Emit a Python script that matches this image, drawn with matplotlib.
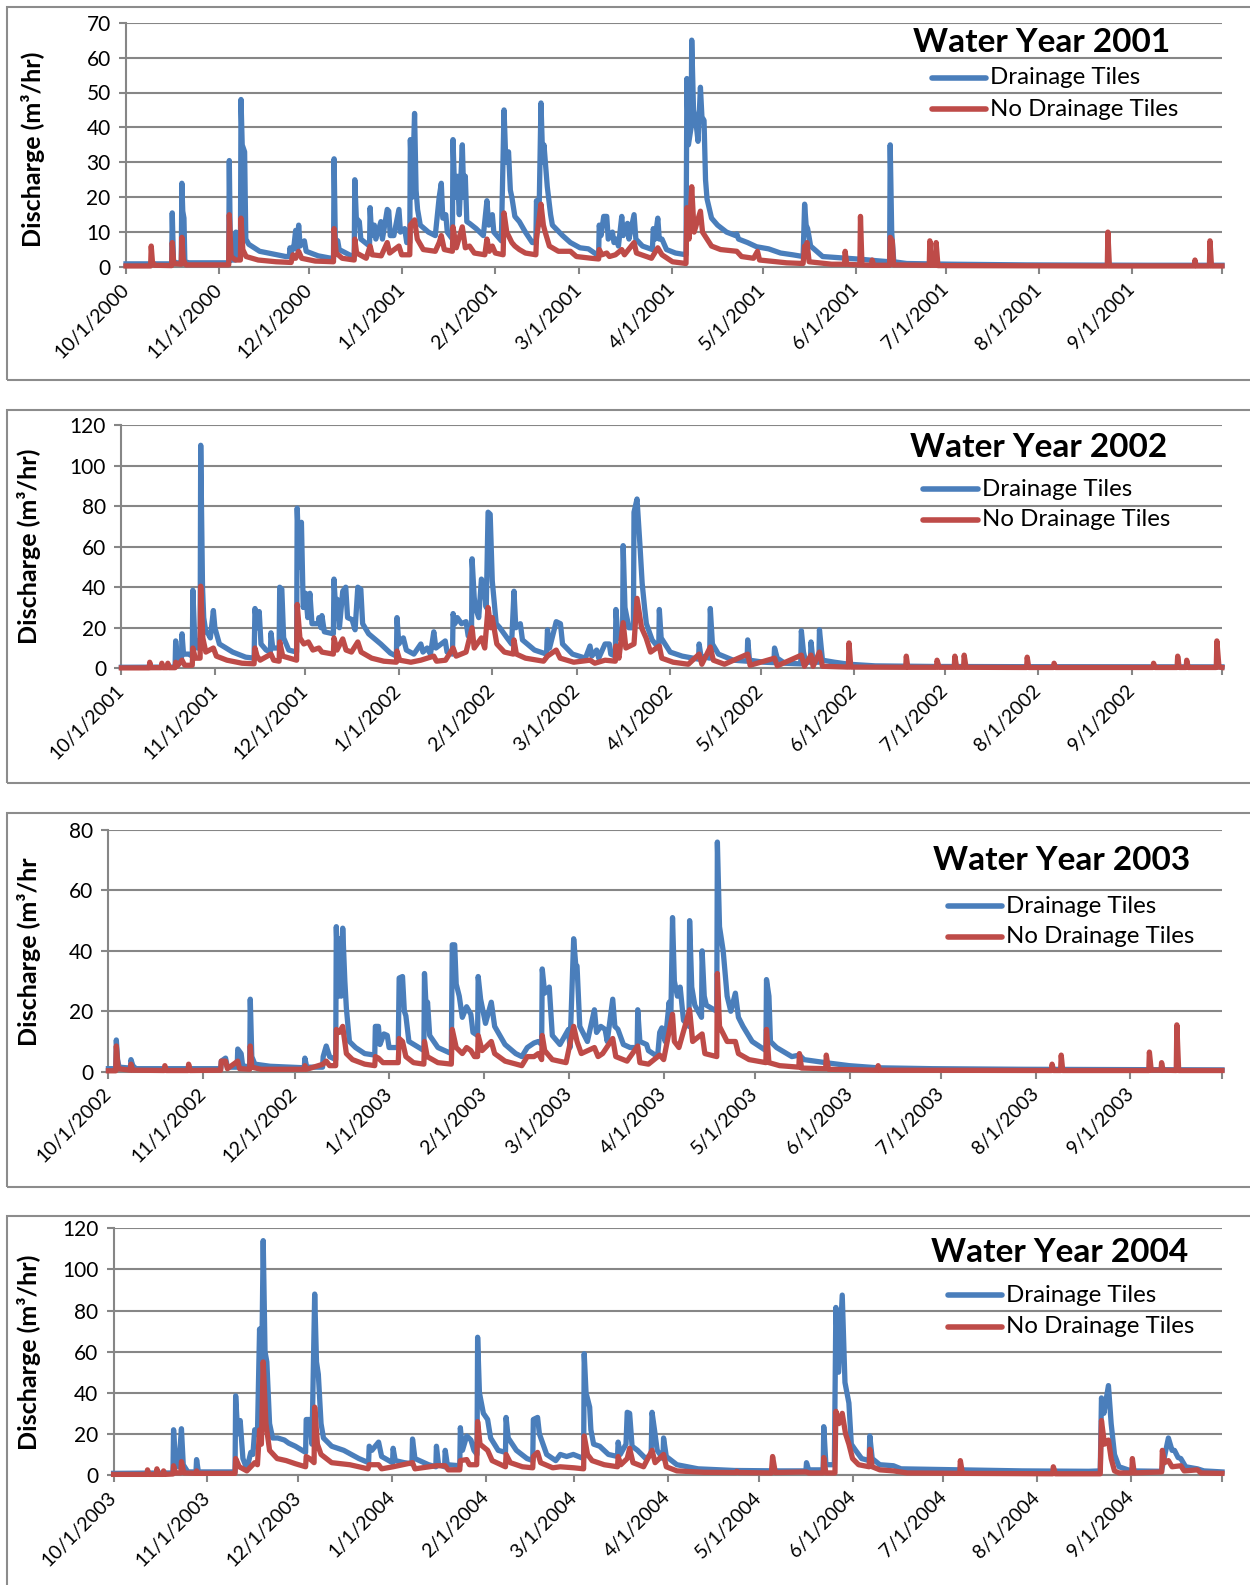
import matplotlib.pyplot as plt
import matplotlib.dates as mdates
import matplotlib.transforms as mtransforms
from matplotlib.lines import Line2D
from matplotlib.patches import Rectangle
from datetime import datetime
import numpy as np

plt.rcParams['font.family'] = ['Lato', 'DejaVu Sans']

# (days since Oct 1 of the water year, discharge m3/hr)
wy2001_tiles = [(0,0.9),(15.2,0.9),(15.4,15.5),(15.8,2),(16.2,1.2),(18.4,1.2),(18.6,24),(18.9,16),(19.3,14),(19.6,1.5),(21,1.2),
    (34.2,1.2),(34.4,30.5),(34.8,2),(36.4,2),(36.6,10),(37,3),(38.1,3),(38.3,48),(38.7,35),(39.5,33),(39.9,8),(40.9,6.5),
    (44.5,4.5),(50.3,3.5),(53.2,3),(54.4,3),(54.6,5.5),(55,4),(56,6.5),(56.5,10.5),(57,5),(57.5,12),(58,6),(59.4,7.5),(60,4.5),
    (64,3.2),(68.3,2.5),(69.1,2.5),(69.3,31),(69.7,8),(70.5,7.5),(71,5),(75.5,3),(76,3),(76.2,25),(76.7,14),(77.7,13),(78.2,8),
    (81.1,6),(81.3,17),(81.8,9),(82.7,12),(83.2,8),(84.9,13),(85.4,8),(87,16.5),(87.5,16),(88,9),(89.2,9),(90.9,16.5),(91.4,10),
    (92.8,11),(93.5,7),(94.5,7),(94.7,36.5),(95.3,20),(96.1,44),(96.6,22),(97.1,16.5),(98,12),(100.7,10),(103,9),(104.3,20),
    (105,24),(105.5,14),(106.5,15),(107,10),(108.7,8),(108.9,36.5),(109.5,20),(110.4,26),(111,15),(112,35),(112.5,20),(113,26),
    (113.5,13),(114.4,12.5),(116.6,11),(119,9),(120.2,19),(120.8,12),(122,15),(122.5,10),(125,7.5),(125.9,45),(126.5,30),
    (127.4,33),(128,22),(128.5,20),(129.5,14.5),(131,13),(133,10),(135.3,7),(136.5,7),(136.7,19),(137.5,12),(138.2,47),
    (138.8,30),(139.2,35),(140.3,23),(141.4,15),(142,12),(145.4,9),(148,7),(151.2,5.5),(154,5.2),(156.9,3.5),(157.4,3.5),
    (157.6,12),(158.2,9),(159.1,14.5),(160.1,14.5),(160.6,8),(162,10),(162.5,7),(163.4,8),(164,6),(165.1,14.5),(165.6,9),
    (167,12.5),(167.5,8),(169.2,15),(169.8,8),(172,6),(175.3,5),(175.6,11),(176.2,8),(177.1,14),(177.6,8),(178.5,8),(180,5),
    (183,4),(186.5,3.5),(186.8,54),(187.3,35),(188.2,40),(188.4,65),(189,45),(190,40),(190.5,36),(191.3,51.5),(191.8,43),
    (192.5,42),(193,25),(193.5,19.5),(195,14),(197,12),(200,10),(203,9),(203.4,9.5),(204,8),(207,7),(210,5.8),(212,5.5),
    (214,5.2),(218,4),(222,3.5),(225.5,3),(226,18),(226.5,12),(227,11),(228,6),(232,3),(240,2.5),(245,2.2),(250,1.8),
    (254.3,1.5),(254.5,35),(255,10),(255.7,1.5),(260,1),(275,0.8),(300,0.6),(340,0.5),(365,0.5)]
wy2001_notiles = [(0,0.3),(8.2,0.3),(8.4,6),(8.8,1.5),(9.5,0.5),(15.2,0.4),(15.4,7),(15.9,1),(18.4,0.8),(18.6,8.5),(19.1,2),
    (20,0.6),(34.2,0.6),(34.4,15),(35,3),(36.5,2),(38.1,2),(38.3,14),(38.9,5),(40,3),(44,2),(50,1.5),(55,1.3),(55.6,3.5),
    (56.5,2.5),(57.5,4.5),(58.5,2.5),(63,1.7),(69.1,1.5),(69.3,11),(70,4),(72,2.5),(76,2),(76.2,8),(76.8,4),(80,2.5),(81.3,6),
    (82,3.5),(85,3.2),(87,7),(87.8,4),(90.9,6),(91.8,3.5),(94.5,3.5),(94.7,12),(96.1,13.5),(97,8),(99,5),(103,4.5),(104.3,7),
    (105,9),(106,5),(108.7,4.5),(108.9,11.5),(110,5.5),(112,11.5),(113,5.5),(114.4,6),(116,4),(119.5,3.5),(120.2,8),(121,4.5),
    (122,6),(123,4),(125.6,3.5),(125.9,15.5),(126.8,10),(128.5,7),(129.5,6),(131,5),(133,4),(136.5,3.5),(136.7,8),(138.2,18),
    (139,12),(139.6,10),(141,6),(144,4.5),(148,4.5),(150,3),(155,2.5),(157.4,2.3),(157.6,5),(158.5,3.5),(160.1,4),(161,3),
    (163,3.5),(165.1,5),(166,3.5),(169.2,7),(170,4),(175,2.5),(177.1,5.5),(178.5,3.5),(182,1.5),(186.5,1),(186.8,17),
    (187.5,8),(188.4,23),(189.2,10),(191.3,16),(192,10),(193.5,8),(195,6),(198,5),(203.4,4.5),(205,3),(209,2.5),(210.3,4.5),
    (211,2),(220,1.2),(225.5,1),(226,6),(226.4,4),(226.8,7),(227.5,1.5),(235,0.8),(239.3,0.8),(239.5,4.5),(240,0.8),
    (244.4,0.6),(244.6,14.5),(245.1,0.6),(248.3,0.5),(248.5,2),(249,0.5),(254.3,0.5),(254.5,8.5),(255.2,7.5),(255.6,0.6),
    (267.5,0.5),(267.7,7.5),(268.3,0.5),(269.6,0.5),(269.8,7),(270.4,0.4),(326.8,0.3),(327,10),(327.5,0.3),(355.8,0.3),
    (356,2),(356.4,0.3),(360.8,0.3),(361,7.5),(361.5,0.3),(365,0.3)]

wy2002_tiles = [(0,0.5),(17.8,0.6),(18,13.5),(18.5,5),(19.9,4),(20.1,17),(20.6,7),(22.3,7),(23.5,6),(23.7,38.5),(24.3,15),
    (25.2,10),(26.1,10),(26.3,110),(26.9,40),(27.3,25),(28,18),(28.8,17),(29.5,15),(30.5,28.5),(31,20),(32.5,12),(36.9,8),
    (41.2,5.5),(44,5),(44.3,29.5),(45,20),(45.7,28),(46.3,12),(48,9),(49.4,8),(49.6,17.5),(50.2,10),(52.3,10),(52.5,40),
    (53.2,39),(53.8,15),(55.5,9),(58.1,8),(58.3,79),(59,50),(59.7,72),(60.3,30),(61.1,37),(61.8,25),(62.5,37),(63.2,22),
    (65.3,22),(65.5,25),(66.2,20),(66.5,26),(67.3,18),(70.3,17),(70.5,44),(71.2,25),(71.6,34),(72.3,20),(73.4,38),(74.4,40),
    (75,25),(76.5,24),(77.5,19),(78.4,40),(79.4,39),(80,22),(82,17),(86,12),(89.2,7.5),(91.2,6),(91.4,25),(92,12),(93.5,15),
    (94.5,9),(97,7),(99.3,12),(100,8),(101.4,10),(102.5,7),(103.6,18),(104.3,10),(107.4,13.5),(108,8),(109.8,7),(110,27),
    (110.6,22),(111.4,25),(112.8,22),(114.3,23),(115,16),(116.1,15),(116.3,54),(117,35),(117.4,30),(118.5,25),(119.4,44),
    (120.3,40),(121,30),(121.6,77),(122.3,76),(123,43),(124.3,22),(125.5,20),(127.9,15),(129.4,12),(130.2,38),(130.8,20),
    (132.3,22),(133,14),(137,9),(141,7),(141.3,19),(142,10),(144.2,23),(145.6,22),(146.3,12),(149.6,7),(153.9,5),(155.4,11),
    (156,6),(157.6,9),(158.3,5),(160.4,12),(161.8,12),(162.3,7),(163.8,6),(164,29),(164.7,15),(166.2,14),(166.4,60.5),
    (167,30),(168.3,20),(169.8,20),(170,77),(171,83.5),(172,60),(172.7,42),(173.5,30),(174.1,22),(176,14),(178.2,10),
    (178.4,29),(179,15),(182,8),(186,6),(191.4,4.5),(191.6,12),(192.2,6),(195.1,5),(195.3,29.5),(196,12),(198,7),(202.9,4),
    (207.5,3.5),(207.7,14),(208.3,4),(213,3),(216.4,2.8),(216.6,10),(217.5,5),(220,2.5),(225.3,2.2),(225.5,18.5),(226.2,8),
    (227,3),(228.5,3),(228.7,13),(229.4,3),(231.3,3),(231.5,19),(232.5,4),(236.5,3),(241.3,2),(250,1.2),(270,0.9),(300,0.8),
    (365,0.7)]
wy2002_notiles = [(0,0.2),(9.2,0.2),(9.4,3),(9.8,0.3),(13.2,0.3),(13.4,2.5),(13.8,0.3),(15.2,0.3),(15.4,2.5),(15.8,0.3),
    (17.8,0.3),(18,3),(18.5,1),(20.1,4),(21,1.5),(23.5,1.5),(23.7,10),(24.5,5),(26.1,5),(26.3,40.5),(27,15),(28,8),(30.5,10),
    (31.5,6),(35,4),(40,2.5),(44,2.2),(44.3,10),(45,6),(46,4),(49.6,7),(50.5,4),(52.3,3.5),(52.5,13),(53.5,6),(58.1,4),
    (58.3,31.5),(59.2,15),(60.5,12),(62,13),(63.5,9),(65.5,10),(66.5,8),(70.3,7),(70.5,15),(71.5,9),(73.4,14.5),(74.5,9),
    (76.3,8),(78.4,13),(79.5,8),(83,5),(87,3.5),(91.2,3),(91.4,8.5),(92.3,4),(96,3),(99.3,4),(103.6,6),(104.5,3.5),(107.5,4),
    (110,10),(111,6),(114.3,8),(116.3,20),(117,10),(119.4,15),(120.5,10),(121.6,30),(122.5,20),(123,25),(124.5,12),(127,8),
    (130,7),(130.2,14),(131,7),(134,5),(140,3.5),(141.3,6),(144.2,9),(145.5,5),(150,3),(155.4,4),(157,2.5),(160.4,4),
    (163.8,3.5),(164,11),(165,5),(166.4,22.5),(167.3,10),(170,12),(171,34.5),(172.5,20),(174,15),(175.5,8),(178.4,11),
    (179.2,5),(183,3),(188,2),(191.6,7),(192.5,2),(195.3,10.5),(196.3,4),(200,2),(207.7,7),(208.5,1.5),(216.6,5),(217.5,1.2),
    (225.5,6.5),(226.5,1),(228.7,6.5),(229.4,1),(231.5,8),(232.5,1),(241.1,0.6),(241.3,12.5),(241.9,0.6),(260.1,0.5),
    (260.3,6),(260.8,0.5),(270.3,0.5),(270.5,4),(271.2,0.5),(276.2,0.5),(276.4,6),(277,0.5),(279.3,0.5),(279.5,6.5),
    (280.1,0.5),(300.2,0.4),(300.4,5.5),(300.9,0.4),(309.1,0.4),(309.3,2.5),(309.8,0.4),(342.1,0.4),(342.3,2.5),(342.8,0.4),
    (350.1,0.4),(350.3,6),(350.8,0.4),(353.1,0.4),(353.3,4),(353.8,0.4),(363.1,0.4),(363.3,13.5),(364,0.6),(365,0.4)]

wy2003_tiles = [(0,1),(2.4,1),(2.6,10.5),(3,4),(3.5,1.5),(7.2,1.2),(7.4,4),(8,2),(9,1),(36.8,1),(37,3.5),(38.4,4.5),(39,1.5),
    (42.2,1.5),(42.4,7.5),(43.5,6),(44,2),(46.3,1.5),(46.5,24),(47,5),(48,2.5),(53,1.8),(60,1.5),(64.2,1.3),(64.4,4.5),
    (65,1.5),(70.2,1.5),(70.4,5),(71.4,8.5),(72.5,5),(74.5,4),(74.7,48),(75.4,25),(75.7,44),(76.3,25),(76.8,47.5),(77.5,30),
    (78,21),(79,10),(81,8),(84,6),(87.3,5.5),(87.5,15),(88.5,15),(89,9),(90.3,12.5),(91.4,12),(92,8),(95,8),(95.3,31),
    (96.4,31.5),(97,20),(97.5,18.5),(98.5,10),(103.4,7),(103.6,32.5),(104.2,20),(104.6,23),(105.3,12),(108,8),(112.4,6),
    (112.7,42),(113.5,42),(114,29),(115,25),(116,18),(117.4,21.5),(118.8,19),(119.5,13),(121,12),(121.2,31.5),(122,24),
    (123.6,16),(125.5,23),(126.6,15),(130,9),(133.5,6),(135.5,5),(137.3,8),(139.5,9.5),(140.9,10),(142,9),(142.2,34),(143,26),
    (144.5,28),(145.5,12),(148,9),(150.8,14),(151.3,8),(152.5,44),(153.2,35),(153.6,35),(154.5,15),(157,10),(159.3,20.5),
    (160,13),(161.4,15),(162.8,14),(163.5,10),(165.3,24),(166,15),(167,14),(168.8,9),(171,8),(173.3,8),(173.5,20.5),
    (174.2,10),(176.4,9),(177,7),(180,5),(180.7,13),(181.4,14.5),(182.5,10),(183.8,23),(184.3,15),(184.9,51),(185.5,30),
    (186.5,25),(187.4,28),(188.5,17),(190.3,15),(190.5,50),(191.2,28),(192.2,22),(194.4,18),(194.6,40),(195.3,25),(196,22),
    (199.4,20),(199.6,76),(200.3,48),(201.5,40),(202.8,25),(204,20),(205.5,26),(206.5,18),(208,15),(211,10),(215.5,7),
    (215.7,30.5),(216.5,25),(217,10),(219,8),(224,5),(226.5,5.5),(228,4),(235,3),(242.8,2),(252,1.3),(270,1),(300,0.8),
    (365,0.6)]
wy2003_notiles = [(0,0.3),(2.4,0.3),(2.6,8.5),(3.2,1),(7.2,0.5),(7.4,2.5),(8,0.5),(18.3,0.4),(18.5,2),(19,0.4),(26.1,0.4),
    (26.3,2.5),(26.8,0.4),(36.8,0.5),(37,3.5),(38.4,3.5),(39,1),(42.4,3.5),(43,1),(46.3,0.8),(46.5,8.5),(47,1.5),(50,0.8),
    (64.2,0.8),(64.4,2),(65,0.8),(70.4,2.5),(71.4,3.5),(72.5,2),(74.5,2),(74.7,14),(75.7,13),(76.8,15),(78,6),(80,4),
    (84,2.5),(87.3,2),(87.5,5),(88.5,4.5),(90,3),(95,3),(95.3,11),(96.4,10),(97.5,5),(100,3),(103.4,2.5),(103.6,10),
    (104.5,5),(108,3),(112.4,2.5),(112.7,14),(114,8),(116,6),(117.4,8),(118.8,7),(120,5),(121,5),(121.2,12),(122.5,7),
    (125.5,10),(126.6,6),(130,3.5),(135.5,2),(137.3,5),(139.5,5),(140.9,6),(142,4),(142.2,12),(143,7),(145.5,4),(150,3),
    (152.5,15),(153.6,10),(155,6),(159.3,8),(160.5,5),(162,6),(165.3,11),(166.3,5),(170,3.5),(173.5,8.5),(174.2,3),(177,2.5),
    (180.7,5.5),(182,4),(184.9,19),(185.5,10),(187,8),(190.5,20.5),(191.5,10),(194.6,12.5),(195.5,6),(199.4,5),(199.6,32.5),
    (200.3,15),(202.8,10),(205.5,10),(206.5,6),(210,4),(215.5,3),(215.7,14),(216.5,3),(220,2),(226.3,1.5),(226.5,6),
    (227.2,1.2),(235.1,1),(235.3,5.5),(236,0.8),(252.1,0.5),(252.3,2),(252.8,0.5),(309.1,0.4),(309.3,2.5),(309.8,0.4),
    (312.1,0.4),(312.3,5.5),(312.8,0.4),(341,0.4),(341.2,6.5),(341.8,0.5),(345,0.5),(345.2,3),(345.7,0.5),(350,0.4),
    (350.2,15.5),(350.8,0.4),(365,0.4)]

wy2004_tiles = [(0,0.8),(19.6,1),(19.8,22),(20.5,5),(21.5,4),(22.4,22.5),(23,5),(24.5,1.5),(27.2,1.5),(27.4,7.5),(28,1.5),
    (40.1,1.5),(40.3,38.5),(41,20),(41.8,26.5),(42.7,8),(44,3),(45.3,11),(46,10),(46.6,22),(47.5,20),(48.2,71),(48.8,40),
    (49.4,114),(50,60),(50.6,55),(51.5,25),(52.5,18),(54.2,18),(56.4,17),(57.8,15.5),(60,14),(63.4,11),(63.6,27),(64.7,27),
    (65.5,15),(66.4,88),(67,55),(67.6,49),(68.5,25),(69.3,18),(72,14),(76,12),(81,8),(84.2,6),(84.4,14),(85.3,12),(87.5,16),
    (88.5,9),(92.1,6),(92.3,13),(93,7),(96,6),(98.5,5.5),(98.7,17.5),(99.5,8),(104,5),(106.4,4),(106.6,14),(107.3,5),
    (109.3,4),(109.5,12),(110.2,5),(114.3,4.5),(114.5,23),(115.2,12),(116.6,19),(118,17),(119,12),(120,10),(120.2,67),
    (120.8,40),(122.1,30),(123.5,27),(124.5,18),(127,12),(129.4,11),(129.6,28),(130.3,18),(133,12),(136.5,8),(138.4,7),
    (138.6,27),(140,28),(140.6,20),(141.8,15),(143,10),(146,7),(147.5,10),(149.6,9),(151.8,10),(155.2,8),(155.4,59),(156,40),
    (157.2,33),(157.6,22),(158.5,15),(160.5,14),(163.4,10),(166.4,9),(166.6,16),(167.3,10),(169.2,15),(169.6,30.5),
    (170.4,30),(171.2,14),(173,12),(175.7,8),(177.5,10),(177.8,30.5),(178.6,22),(179.5,12),(181.4,8),(181.6,18),(182.5,9),
    (186,5),(193,3),(205,2.2),(220,2),(228.6,2),(228.8,6),(229.5,2.5),(234.3,2.5),(234.5,23.5),(235.2,5),(238,5),(238.5,81.5),
    (239.4,50),(240.6,87.5),(241.5,45),(242.8,35),(243.6,15),(245,12),(247,8),(249.5,7),(249.7,19),(250.5,8),(253,5),
    (257.5,4.5),(260,3),(280,2.5),(300,2),(322,1.8),(325.8,2),(326.2,37.5),(327,30),(328.5,43.5),(329.4,25),(330.5,10),
    (332,4),(336,2),(346,1.8),(348.3,18),(349.5,12),(350.3,12),(351.5,8.5),(352.4,8),(354,4),(357.9,3),(360,2),(366,1.5)]
wy2004_notiles = [(0,0.3),(11,0.3),(11.2,2.5),(11.7,0.3),(14.1,0.3),(14.3,3),(14.8,0.3),(16.3,0.3),(16.5,2),(17,0.3),
    (19.6,0.5),(19.8,4.5),(20.5,1),(22.2,1),(22.4,6.5),(23.2,1),(27.2,0.8),(27.4,2),(28,0.8),(40.1,0.8),(40.3,8),(41.5,4),
    (44,2),(46.6,6),(47.5,5),(48.2,22),(48.8,15),(49.4,55),(50.3,25),(51.5,12),(54,8),(57,7),(60,5.5),(63.4,4),(63.6,9),
    (64.7,8),(66.2,6),(66.4,33),(67.3,15),(68.5,10),(72,6),(78,5),(84,3),(84.4,5),(87.5,5),(88.5,3),(92.3,4),(98.7,6),
    (99.5,3),(106.6,4.5),(109.5,4.5),(110.5,2.5),(114.3,2.5),(114.5,7),(116.6,7.5),(117.5,5),(119.9,5),(120.2,26),(121,15),
    (123.5,12),(125,7),(129.4,4),(129.6,10),(131,6),(135,4),(138.4,3.5),(138.6,9),(140,11),(141,6),(145,3.5),(147.5,4),
    (152,3.5),(155.2,3),(155.4,19),(156.5,10),(158,7),(162,5),(166.4,4),(166.6,9),(167.5,5),(169.6,8),(170.4,13),(171.5,6),
    (175,4),(177.8,12),(178.8,6),(181.6,10),(182.5,4),(186,2),(195,1.3),(205.6,1.2),(205.8,1.8),(206.4,1.2),(217.2,1),
    (217.6,9),(218.5,1.2),(228.8,1.5),(229.5,1),(234.3,1),(234.5,8.5),(235.2,1),(238.2,1),(238.5,31),(239.5,25),(240.6,30),
    (241.7,20),(242.8,15),(244,8),(246,5),(249.5,4),(249.7,12.5),(250.5,4),(253,2.5),(257.5,2),(262,1),(279.4,0.8),(279.6,7),
    (280.3,0.8),(310.1,0.6),(310.3,4),(311,0.6),(325.8,0.6),(326.2,26.5),(327.2,15),(328.5,17),(329.4,8),(330.5,2),(332,1),
    (336.2,1),(336.4,8),(337,1),(346.1,1.5),(346.3,12),(347,6),(348.3,7),(349.5,4),(352.4,4.5),(353.5,2),(357.9,2.5),
    (359,1),(366,0.8)]

water_years = [2001, 2002, 2003, 2004]
y_max = [70, 120, 80, 120]
y_step = [10, 20, 20, 20]
tiles_series = [wy2001_tiles, wy2002_tiles, wy2003_tiles, wy2004_tiles]
notiles_series = [wy2001_notiles, wy2002_notiles, wy2003_notiles, wy2004_notiles]
y_labels = ['Discharge (m³/hr)', 'Discharge (m³/hr)', 'Discharge (m³/hr', 'Discharge (m³/hr)']

BLUE = '#4a7ebb'
RED = '#be4b48'
GRAY = '#868686'

W, H = 1250, 1585
fig = plt.figure(figsize=(12.5, 15.85), dpi=100)


def fx(px):
    return px / W


def fy(py):
    return 1 - py / H


# pixel layout of each panel: plot box (left, right, top, bottom), frame top/bottom,
# y-label centre, title centre, legend line x range, legend text x, legend rows y
layout = [
    dict(box=(126, 1222, 22.7, 267), frame=(7.3, 380), ylab=(33, 149), title=(1042, 42.5),
         leg=(932, 986), legtx=990, legy=(78, 109)),
    dict(box=(121.4, 1222, 425, 668.3), frame=(410, 783), ylab=(29, 546.7), title=(1039, 447.5),
         leg=(923, 978), legtx=982, legy=(489, 520)),
    dict(box=(108.4, 1222, 830, 1071.7), frame=(812.7, 1186.7), ylab=(29, 951.7), title=(1061.5, 861),
         leg=(948, 1002), legtx=1006, legy=(906, 936.7)),
    dict(box=(113.6, 1222, 1228.3, 1475), frame=(1215.7, 1700), ylab=(29, 1352.5), title=(1060, 1252.5),
         leg=(948, 1002), legtx=1006, legy=(1295, 1326.7)),
]

# nudge rotated date labels a few pixels right, as in the original
label_shift = mtransforms.ScaledTranslation(4 / 100, 0, fig.dpi_scale_trans)

for i, wy in enumerate(water_years):
    lay = layout[i]
    l, r, t, b = lay['box']
    ax = fig.add_axes([fx(l), fy(b), (r - l) / W, (b - t) / H])

    start = mdates.date2num(datetime(wy - 1, 10, 1))
    end = mdates.date2num(datetime(wy, 10, 1))

    d, v = zip(*tiles_series[i])
    ax.plot(start + np.array(d), v, color=BLUE, lw=3.8, zorder=3, clip_on=False, solid_joinstyle='round')
    d, v = zip(*notiles_series[i])
    ax.plot(start + np.array(d), v, color=RED, lw=3.8, zorder=4, clip_on=False, solid_joinstyle='round')

    ax.set_xlim(start, end)
    ax.set_ylim(0, y_max[i])
    ax.set_yticks(np.arange(0, y_max[i] + 1, y_step[i]))

    months = [datetime(wy - 1 + (m + 9) // 12, (m + 9) % 12 + 1, 1) for m in range(13)]
    ax.set_xticks([mdates.date2num(m) for m in months])
    ax.set_xticklabels([f'{m.month}/1/{m.year}' for m in months[:-1]] + [''],
                       rotation=45, ha='right', va='center', rotation_mode='anchor')
    for lbl in ax.get_xticklabels():
        lbl.set_transform(lbl.get_transform() + label_shift)

    ax.grid(axis='y', color=GRAY, lw=1.5)
    ax.set_axisbelow(True)
    for s in ['top', 'right']:
        ax.spines[s].set_visible(False)
    for s in ['left', 'bottom']:
        ax.spines[s].set_color(GRAY)
        ax.spines[s].set_linewidth(1.5)
    ax.tick_params(axis='both', color=GRAY, width=1.5, length=5, labelcolor='black')
    ax.tick_params(axis='y', pad=6, labelsize=15)
    ax.tick_params(axis='x', pad=9, labelsize=14)

    # panel frame
    ft, fb = lay['frame']
    fig.add_artist(Rectangle((fx(6.5), fy(fb)), 1.2, (fb - ft) / H, transform=fig.transFigure,
                             fill=False, edgecolor='#8c8c8c', lw=1.5))

    fig.text(fx(lay['ylab'][0]), fy(lay['ylab'][1]), y_labels[i], rotation=90, ha='center', va='center',
             fontsize=18, fontweight='bold')
    fig.text(fx(lay['title'][0]), fy(lay['title'][1]), f'Water Year {wy}', ha='center', va='center',
             fontsize=24, fontweight='bold')

    for color, name, yy in [(BLUE, 'Drainage Tiles', lay['legy'][0]), (RED, 'No Drainage Tiles', lay['legy'][1])]:
        fig.add_artist(Line2D([fx(lay['leg'][0]), fx(lay['leg'][1])], [fy(yy), fy(yy)], transform=fig.transFigure,
                              color=color, lw=4, solid_capstyle='round'))
        fig.text(fx(lay['legtx']), fy(yy), name, ha='left', va='center', fontsize=17.3)

fig.savefig('out.png', dpi=100)
